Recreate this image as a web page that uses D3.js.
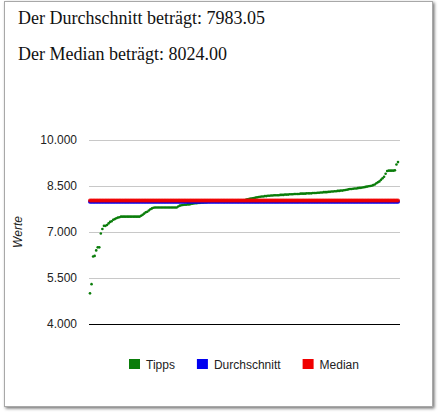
<!DOCTYPE html>
<html>
<head>
<meta charset="utf-8">
<script src="https://cdn.jsdelivr.net/npm/d3@7"></script>
<style>
  body { margin: 0; background: #fff; }
  svg { display: block; }
</style>
</head>
<body>
<svg width="440" height="416"></svg>
<script>
// sorted guesses ("Tipps")
let tipps = [
  5000, 5300, 6200, 6220, 6400, 6500, 6500, 6950, 7100, 7200, 7200, 7230, 7280, 7330, 7350, 7400, 7420, 7450, 7470, 7480, 7500,
  7500, 7500, 7500, 7500, 7500, 7500, 7500, 7500, 7500, 7500, 7500, 7500,
  7530, 7560, 7600, 7640, 7660, 7700, 7740, 7770, 7790, 7800,
  7800, 7800, 7800, 7800, 7800, 7800, 7800, 7800, 7800, 7800, 7800, 7800, 7800, 7800,
  7830, 7860, 7870, 7880, 7890, 7890, 7900, 7900, 7910, 7920, 7930, 7940, 7940, 7950, 7950, 7960, 7960,
  7970, 7970, 7980, 7980, 7990, 7990, 8000, 8000, 8000, 8000, 8000, 8000, 8000, 8000, 8000, 8000, 8000, 8000, 8000, 8000,
  8010, 8010, 8010, 8020, 8020, 8020,
  8030, 8060, 8070, 8080, 8090, 8100, 8110, 8120, 8130, 8140, 8150, 8160, 8160, 8170, 8170, 8180, 8180, 8190, 8190, 8200, 8200,
  8200, 8200, 8210, 8210, 8210, 8220, 8220, 8220, 8230, 8230, 8230, 8240, 8240, 8240, 8240, 8250, 8250, 8250, 8250, 8260, 8260, 8260, 8260, 8270, 8270, 8270, 8280, 8280,
  8290, 8290, 8300, 8300, 8300, 8310, 8310, 8320, 8320, 8330, 8330, 8340, 8340, 8350, 8350, 8360, 8370, 8380, 8390, 8400, 8400,
  8410, 8420, 8420, 8430, 8440, 8440, 8450, 8460, 8470, 8480, 8490, 8500, 8510, 8530, 8550, 8590, 8620, 8650, 8700, 8750, 8800, 8900, 8990, 9000, 9000, 9000, 9000, 9010, 9200, 9280
];
let durchschnitt = 7983.05;
let median = 8024.00;

let series_names = ["Tipps", "Durchschnitt", "Median"];
let series_colors = ["#0a7d0a", "#0000f0", "#f00000"];
let y_ticks = [4000, 5500, 7000, 8500, 10000];
let y_title = "Werte";
let headlines = [
  "Der Durchschnitt beträgt: " + durchschnitt.toFixed(2),
  "Der Median beträgt: " + median.toFixed(2)
];

var svg = d3.select("svg");
var de = d3.formatLocale({decimal: ",", thousands: ".", grouping: [3], currency: ["", " €"]});

// frame with a little shadow
var defs = svg.append("defs");
var shadow = defs.append("filter").attr("id", "shadow")
    .attr("x", "-5%").attr("y", "-5%").attr("width", "110%").attr("height", "110%");
shadow.append("feDropShadow")
    .attr("dx", 1.5).attr("dy", 1.5).attr("stdDeviation", 1.5)
    .attr("flood-color", "#000").attr("flood-opacity", 0.55);

svg.append("rect")
    .attr("x", 4.5).attr("y", 1.5)
    .attr("width", 428).attr("height", 405)
    .attr("fill", "#fff")
    .attr("stroke", "#a8a8a8")
    .attr("stroke-width", 1)
    .attr("filter", "url(#shadow)");

svg.selectAll(".headline")
  .data(headlines)
  .enter().append("text")
    .attr("class", "headline")
    .attr("x", 18)
    .attr("y", (d, i) => 24 + i * 36)
    .attr("font-family", "'Liberation Serif', 'DejaVu Serif', serif")
    .attr("font-size", "18px")
    .attr("fill", "#111")
    .text(d => d);

var plot = {left: 89, right: 400, top: 140, bottom: 324};

var x = d3.scaleLinear()
    .domain([0, tipps.length - 1])
    .range([plot.left + 1, plot.right - 2]);
var y = d3.scaleLinear()
    .domain([d3.min(y_ticks), d3.max(y_ticks)])
    .range([plot.bottom, plot.top]);

var y_axis = svg.append("g")
    .attr("transform", "translate(" + plot.left + ",0)")
    .call(d3.axisLeft(y)
      .tickValues(y_ticks)
      .tickFormat(de.format(",.0f"))
      .tickSize(-(plot.right - plot.left))
      .tickPadding(12));
y_axis.select(".domain").remove();
y_axis.selectAll(".tick line")
    .attr("stroke", d => d == d3.min(y_ticks) ? "#000" : "#c8c8c8");
y_axis.selectAll(".tick text")
    .attr("font-family", "'Liberation Sans', Arial, sans-serif")
    .attr("font-size", "12px")
    .attr("fill", "#222");

svg.append("text")
    .attr("transform", "translate(22," + ((plot.top + plot.bottom) / 2) + ") rotate(-90)")
    .attr("text-anchor", "middle")
    .attr("font-family", "'Liberation Sans', Arial, sans-serif")
    .attr("font-style", "italic")
    .attr("font-size", "12px")
    .attr("fill", "#222")
    .text(y_title);

// three point series over the same index
var flat_mean = tipps.map(() => durchschnitt);
var flat_median = tipps.map(() => median);
var series = [tipps, flat_mean, flat_median];
var radius = [1.3, 2, 2];
var opacity = [1, 1, 0.85];

series.forEach(function(values, s) {
  svg.append("g")
    .selectAll("circle")
    .data(values)
    .enter().append("circle")
      .attr("cx", (d, i) => x(i))
      .attr("cy", d => y(d))
      .attr("r", radius[s])
      .attr("fill", series_colors[s])
      .attr("fill-opacity", opacity[s]);
});

// legend
var legend = svg.append("g").attr("transform", "translate(129,359)");
var lx = 0;
series_names.forEach(function(name, s) {
  legend.append("rect")
    .attr("x", lx).attr("y", 0)
    .attr("width", 11).attr("height", 10)
    .attr("fill", series_colors[s]);
  var t = legend.append("text")
    .attr("x", lx + 17)
    .attr("y", 9.5)
    .attr("font-family", "'Liberation Sans', Arial, sans-serif")
    .attr("font-size", "12px")
    .attr("fill", "#222")
    .text(name);
  lx = lx + 17 + t.node().getComputedTextLength() + 22;
});
</script>
</body>
</html>
